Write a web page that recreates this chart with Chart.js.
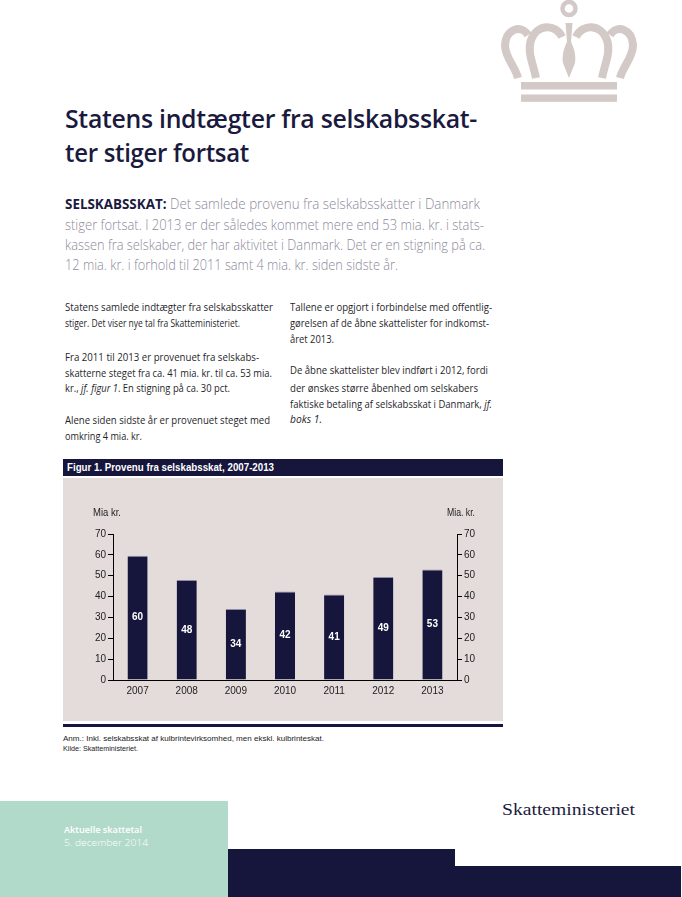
<!DOCTYPE html>
<html><head><meta charset="utf-8">
<script src="https://cdn.jsdelivr.net/npm/chart.js@4.4.1/dist/chart.umd.min.js"></script>
<style>
html,body{margin:0;padding:0;background:#fff;}
body{width:682px;height:897px;overflow:hidden;position:relative;}
.t{position:absolute;white-space:nowrap;line-height:1;transform-origin:0 50%;display:inline-block;}
.box{position:absolute;}
</style>
</head><body>
<svg class="box" style="left:0;top:0" width="682" height="110" viewBox="0 0 682 110">
  <g fill="#d3c9c7" stroke="none">
    <rect x="521" y="82" width="96" height="7.5"/>
    <rect x="521" y="94.5" width="96" height="7.3"/>
    <path d="M565.5,23 L572.5,23 L571,42 C575,50 576,57 575,63 L569,78 L563,63 C562,57 563,50 567,42 Z"/>
  </g>
  <g fill="none" stroke="#d3c9c7" stroke-width="8">
    <circle cx="569" cy="8.5" r="6.5" stroke-width="4.5"/>
    <path d="M528,35 C521,24 506,29 505,45 C505,58 515,66 518,78"/>
    <path d="M562,37 C555,23 537,24 531,40 C527,52 533,63 536,78"/>
    <path d="M610,35 C617,24 632,29 633,45 C633,58 623,66 620,78"/>
    <path d="M576,37 C583,23 601,24 607,40 C611,52 605,63 602,78"/>
  </g>
</svg>

<div class="box" style="left:63px;top:459px;width:440px;height:17px;background:#16163c"></div>
<div class="box" style="left:63px;top:478px;width:440px;height:243px;background:#e4dcdb"></div>
<div class="box" style="left:63px;top:724px;width:440px;height:2.5px;background:#16163c"></div>
<canvas id="c" width="440" height="243" style="position:absolute;left:63px;top:478px;width:440px;height:243px"></canvas>

<div class="box" style="left:0;top:801px;width:228px;height:96px;background:#b2dacb"></div>
<div class="box" style="left:228px;top:849px;width:227px;height:48px;background:#16163c"></div>
<div class="box" style="left:455px;top:866px;width:226px;height:31px;background:#16163c"></div>

<div id="texts"></div>

<script>
// ---- chart data ----
const years = ['2007', '2008', '2009', '2010', '2011', '2012', '2013'];
const revenue = [59.6, 47.9, 34.1, 42.4, 41.0, 49.4, 53.0];
const barLabels = ['60', '48', '34', '42', '41', '49', '53'];
const yTicks = [0, 10, 20, 30, 40, 50, 60, 70];
const axisUnitLeft = 'Mia kr.';
const axisUnitRight = 'Mia. kr.';
const figTitle = 'Figur 1. Provenu fra selskabsskat, 2007-2013';

const OS = "'Open Sans', sans-serif";
const LS = "'Liberation Sans', Arial, sans-serif";
const SERIF = "'Liberation Serif', 'Times New Roman', serif";
const K = {os: 0.618, ls: 0.55, serif: 0.6};

// text lines: [html, x, centerY, fontSize, fontKey, weight, color, targetWidth]
const navy = '#1a1a3e', grey = '#8d8a9b', body = '#1f1f2c';
const lines = [
  // lead
  ['<b style="font-weight:700;color:#1a1a3e">SELSKABSSKAT:</b> Det samlede provenu fra selskabsskatter i Danmark', 65, 205.7, 14, 'os', 300, grey, 415],
  ['stiger fortsat. I 2013 er der således kommet mere end 53 mia. kr. i stats-', 65, 226.2, 14, 'os', 300, grey, 419],
  ['kassen fra selskaber, der har aktivitet i Danmark. Det er en stigning på ca.', 65, 246.5, 14, 'os', 300, grey, 420],
  ['12 mia. kr. i forhold til 2011 samt 4 mia. kr. siden sidste år.', 65, 266.7, 14, 'os', 300, grey, 333],
  // left column
  ['Statens samlede indtægter fra selskabsskatter', 65, 308.3, 10.5, 'os', 500, body, 208],
  ['stiger. Det viser nye tal fra Skatteministeriet.', 65, 324.3, 10.5, 'os', 500, body, 175],
  ['Fra 2011 til 2013 er provenuet fra selskabs-', 65, 358.3, 10.5, 'os', 500, body, 194],
  ['skatterne steget fra ca. 41 mia. kr. til ca. 53 mia.', 65, 374.3, 10.5, 'os', 500, body, 207],
  ['kr., <i>jf. figur 1</i>. En stigning på ca. 30 pct.', 65, 389.8, 10.5, 'os', 500, body, 165],
  ['Alene siden sidste år er provenuet steget med', 65, 421.7, 10.5, 'os', 500, body, 205],
  ['omkring 4 mia. kr.', 65, 437, 10.5, 'os', 500, body, 77],
  // right column
  ['Tallene er opgjort i forbindelse med offentlig-', 290, 308.3, 10.5, 'os', 500, body, 202],
  ['gørelsen af de åbne skattelister for indkomst-', 290, 324.3, 10.5, 'os', 500, body, 199],
  ['året 2013.', 290, 340.5, 10.5, 'os', 500, body, 44],
  ['De åbne skattelister blev indført i 2012, fordi', 290, 371.7, 10.5, 'os', 500, body, 198],
  ['der ønskes større åbenhed om selskabers', 290, 389.3, 10.5, 'os', 500, body, 188],
  ['faktiske betaling af selskabsskat i Danmark, <i>jf.</i>', 290, 405, 10.5, 'os', 500, body, 202],
  ['<i>boks 1.</i>', 290, 420.5, 10.5, 'os', 500, body, 32],
  // figure header + notes
  [figTitle, 67, 468, 11, 'ls', 700, '#ffffff', 207],
  [axisUnitLeft, 93, 513.5, 10, 'ls', 400, '#222', 28],
  [axisUnitRight, 447, 513.5, 10, 'ls', 400, '#222', 28],
  ['Anm.: Inkl. selskabsskat af kulbrintevirksomhed, men ekskl. kulbrinteskat.', 63, 739.5, 8, 'ls', 400, '#222', 261],
  ['Kilde: Skatteministeriet.', 63, 749.5, 8, 'ls', 400, '#222', 75],
  // footer
  ['Aktuelle skattetal', 64, 831, 9, 'os', 600, '#ffffff', 78],
  ['5. december 2014', 64, 844, 9, 'os', 300, '#ffffff', 84],
  ['Skatteministeriet', 502, 811, 17, 'serif', 400, navy, 133],
];
const titleLines = [
  ['Statens indtægter fra selskabsskat-', 65, 128.5, 412],
  ['ter stiger fortsat', 65, 162, 184],
];

const holder = document.getElementById('texts');
const made = [];
function fam(k){ return k === 'os' ? OS : (k === 'ls' ? LS : SERIF); }
lines.forEach(l => {
  const [html, x, cy, fs, fk, w, col, tw] = l;
  const d = document.createElement('div');
  d.className = 't';
  d.innerHTML = html;
  d.style.left = x + 'px';
  d.style.top = (cy - K[fk] * fs) + 'px';
  d.style.fontSize = fs + 'px';
  d.style.fontFamily = fam(fk);
  d.style.fontWeight = w;
  d.style.color = col;
  holder.appendChild(d);
  made.push([d, tw]);
});
titleLines.forEach(l => {
  const [txt, x, base, tw] = l;
  const fs = 25;
  const d = document.createElement('div');
  d.className = 't';
  d.textContent = txt;
  d.style.left = x + 'px';
  d.style.top = (base - 0.888 * fs) + 'px';
  d.style.fontSize = fs + 'px';
  d.style.fontFamily = OS;
  d.style.fontWeight = 600;
  d.style.color = navy;
  d.style.letterSpacing = '-0.3px';
  holder.appendChild(d);
  made.push([d, tw]);
});
function fit(){
  made.forEach(([d, tw]) => {
    d.style.transform = 'none';
    const w = d.getBoundingClientRect().width;
    if (w > 0) d.style.transform = 'scaleX(' + (tw / w) + ')';
  });
}
fit();

// ---- chart ----
const barLabelPlugin = {
  id: 'barLabels',
  afterDatasetsDraw(chart) {
    const ctx = chart.ctx;
    const meta = chart.getDatasetMeta(0);
    ctx.save();
    ctx.fillStyle = '#ffffff';
    ctx.font = 'bold 10px ' + LS;
    ctx.textAlign = 'center';
    ctx.textBaseline = 'middle';
    meta.data.forEach((bar, i) => {
      ctx.fillText(barLabels[i], bar.x, (bar.y + bar.base) / 2);
    });
    ctx.restore();
  }
};
const tickFont = {family: LS, size: 10};
function yAxis(pos, width) {
  return {
    position: pos, min: 0, max: 70,
    afterBuildTicks: s => { s.ticks = yTicks.map(v => ({value: v})); },
    ticks: {color: '#222', font: tickFont, padding: 2},
    grid: {drawOnChartArea: false, drawTicks: true, tickLength: 5, color: '#000', lineWidth: 1},
    border: {display: true, color: '#000', width: 1},
    afterFit: s => { s.width = width; }
  };
}
new Chart(document.getElementById('c'), {
  type: 'bar',
  data: {
    labels: years,
    datasets: [{
      data: revenue,
      backgroundColor: '#16163c',
      borderColor: '#8e8ea2',
      borderWidth: {top: 1, left: 0, right: 0, bottom: 0},
      borderSkipped: 'bottom',
      categoryPercentage: 1,
      barPercentage: 0.41,
      yAxisID: 'y'
    }]
  },
  options: {
    responsive: false,
    animation: false,
    devicePixelRatio: window.devicePixelRatio || 1,
    layout: {padding: {top: 56, left: 0, right: 0, bottom: 0}},
    plugins: {legend: {display: false}, tooltip: {enabled: false}},
    scales: {
      x: {
        grid: {display: true, drawOnChartArea: false, drawTicks: false},
        border: {display: true, color: '#000', width: 1},
        ticks: {color: '#222', font: tickFont, padding: 5, maxRotation: 0},
        afterFit: s => { s.height = 41; }
      },
      y: yAxis('left', 50),
      y2: yAxis('right', 46)
    }
  },
  plugins: [barLabelPlugin]
});
if (document.fonts && document.fonts.ready) document.fonts.ready.then(fit);
</script>
</body></html>
